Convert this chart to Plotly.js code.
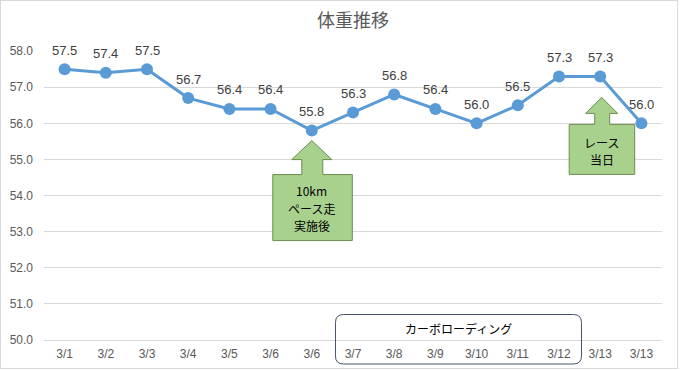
<!DOCTYPE html>
<html>
<head>
<meta charset="utf-8">
<script src="https://cdn.plot.ly/plotly-3.0.1.min.js"></script>
<style>
  html, body { margin: 0; padding: 0; background: #ffffff; }
  #wrap { position: relative; width: 680px; height: 370px; }
  #chart { width: 680px; height: 370px; }
  #frame { position: absolute; left: 0; top: 0; width: 678px; height: 369px; box-sizing: border-box; border: 1px solid #d9d9d9; pointer-events: none; }
</style>
</head>
<body>
<div id="wrap"><div id="chart"></div><div id="frame"></div></div>
<script>
// ---- data ----
const categories = ['3/1','3/2','3/3','3/4','3/5','3/6','3/6','3/7','3/8','3/9','3/10','3/11','3/12','3/13','3/13'];
const weights = [57.5, 57.4, 57.5, 56.7, 56.4, 56.4, 55.8, 56.3, 56.8, 56.4, 56.0, 56.5, 57.3, 57.3, 56.0];
const yTickValues = [50, 51, 52, 53, 54, 55, 56, 57, 58];
const titleText = '体重推移';
const calloutRunLines = ['10km', 'ペース走', '実施後'];
const calloutRaceLines = ['レース', '当日'];
const carbLoadText = 'カーボローディング';
const calloutRunIndex = 6;
const calloutRaceIndex = 13;
const carbStartIndex = 7;
const carbEndIndex = 12;

const xIdx = categories.map((_, i) => i);
const nCat = categories.length;

const trace = {
  x: xIdx,
  y: weights,
  type: 'scatter',
  mode: 'lines+markers',
  line: { color: '#5b9bd5', width: 3 },
  marker: { color: '#5b9bd5', size: 12 },
  hoverinfo: 'skip',
  showlegend: false
};

const labelAnnotations = weights.map((v, i) => ({
  x: i, y: v, xref: 'x', yref: 'y',
  text: v.toFixed(1), showarrow: false,
  yshift: 19, xanchor: 'center', yanchor: 'middle',
  font: { family: 'Liberation Sans, Arial, sans-serif', size: 13, color: '#404040' }
}));

const boxFont = { family: 'Noto Sans CJK JP, sans-serif', size: 12, color: '#000000' };
const carbCenterPaper = ((carbStartIndex - 0.43 + carbEndIndex + 0.55) / 2 + 0.5) / nCat;

function lineAnnotations(lines, idx, centerShift, xshift, spacing) {
  const mid = (lines.length - 1) / 2;
  return lines.map((t, k) => ({
    x: idx, y: weights[idx], xref: 'x', yref: 'y', text: t,
    showarrow: false, xanchor: 'center', yanchor: 'middle',
    yshift: centerShift - (k - mid) * spacing, xshift: xshift, font: boxFont
  }));
}

const annotations = labelAnnotations
  .concat(lineAnnotations(calloutRunLines, calloutRunIndex, -77.6, 0, 17.3))
  .concat(lineAnnotations(calloutRaceLines, calloutRaceIndex, -74.5, 1.5, 17.3))
  .concat([{ x: carbCenterPaper, y: 0, xref: 'paper', yref: 'paper', text: carbLoadText,
    showarrow: false, xanchor: 'center', yanchor: 'middle', yshift: 12, font: boxFont }]);

const calloutStyle = { fillcolor: '#a9d18e', line: { color: '#6b8e4e', width: 1 } };

const shapes = [
  Object.assign({
    type: 'path', xref: 'x', yref: 'y', xsizemode: 'pixel', ysizemode: 'pixel',
    xanchor: calloutRunIndex, yanchor: weights[calloutRunIndex],
    path: 'M 0,-10 L 20,-29 L 11,-29 L 11,-44 L 40.5,-44 L 40.5,-110 L -39,-110 L -39,-44 L -10,-44 L -10,-29 L -20,-29 Z'
  }, calloutStyle),
  Object.assign({
    type: 'path', xref: 'x', yref: 'y', xsizemode: 'pixel', ysizemode: 'pixel',
    xanchor: calloutRaceIndex, yanchor: weights[calloutRaceIndex],
    path: 'M 1.5,-21 L 17.5,-37 L 9.5,-37 L 9.5,-48 L 34.5,-48 L 34.5,-98 L -31,-98 L -31,-48 L -5.5,-48 L -5.5,-37 L -14.5,-37 Z'
  }, calloutStyle),
  {
    type: 'path', xref: 'paper', yref: 'paper', xsizemode: 'pixel', ysizemode: 'pixel',
    xanchor: carbCenterPaper, yanchor: 0,
    path: 'M -115,25.5 L 115,25.5 Q 123,25.5 123,17.5 L 123,-16 Q 123,-24 115,-24 L -115,-24 Q -123,-24 -123,-16 L -123,17.5 Q -123,25.5 -115,25.5 Z',
    fillcolor: 'rgba(0,0,0,0)', line: { color: '#44546a', width: 1 }
  }
];

const layout = {
  width: 680, height: 370,
  margin: { l: 44, r: 18, t: 51, b: 30 },
  paper_bgcolor: '#ffffff', plot_bgcolor: '#ffffff',
  title: {
    text: titleText, x: 0.5, xref: 'paper', xanchor: 'center', y: 1, yref: 'container', yanchor: 'top', pad: { t: 14 },
    font: { family: 'Noto Sans CJK JP, sans-serif', size: 18, color: '#595959' }
  },
  xaxis: {
    range: [-0.5, nCat - 0.5], tickvals: xIdx, ticktext: categories,
    showgrid: false, zeroline: false, showline: true, linecolor: '#d9d9d9', linewidth: 1,
    ticks: '', ticklabelstandoff: 3,
    tickfont: { family: 'Liberation Sans, Arial, sans-serif', size: 12, color: '#595959' },
    fixedrange: true
  },
  yaxis: {
    range: [50, 58.004], tickvals: yTickValues, ticktext: yTickValues.map(v => v.toFixed(1)),
    showgrid: true, gridcolor: '#d9d9d9', gridwidth: 1, zeroline: false, showline: false,
    ticks: '', ticklabelstandoff: 10,
    tickfont: { family: 'Liberation Sans, Arial, sans-serif', size: 12, color: '#595959' },
    fixedrange: true
  },
  shapes: shapes,
  annotations: annotations,
  showlegend: false
};

Plotly.newPlot('chart', [trace], layout, { displayModeBar: false, staticPlot: true });
</script>
</body>
</html>
